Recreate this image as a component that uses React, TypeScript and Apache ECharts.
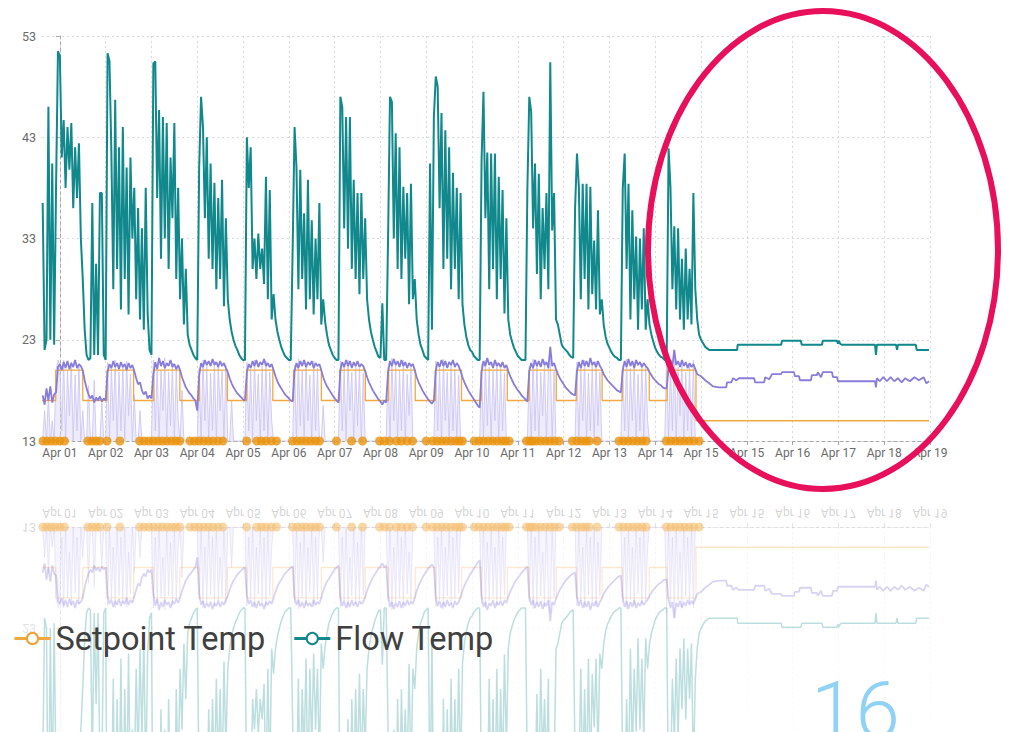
import React, { useEffect, useRef } from "react";
import * as echarts from "echarts";

// x axis is in "tick units": tick k = label k
const tickDays = [0, 1, 2, 3, 4, 5, 6, 7, 8, 9, 10, 11, 12, 13, 14, 15, 16, 17, 18, 19];
const tickLabels = [
  "Apr 01", "Apr 02", "Apr 03", "Apr 04", "Apr 05", "Apr 06", "Apr 07", "Apr 08", "Apr 09", "Apr 10",
  "Apr 11", "Apr 12", "Apr 13", "Apr 14", "Apr 15", "Apr 15", "Apr 16", "Apr 17", "Apr 18", "Apr 19",
];
const yTicks = [13, 23, 33, 43, 53];
const reflectedYLabels = [13, 23];

// Flow temp, hourly samples (9 before Apr 01, then 24 per day), then a sparse tail
const flowPre = [36.5, 22, 23, 46, 23, 40.4, 22.5, 38, 51.5];
const flowDays = [
  [51, 41, 44.7, 38, 44, 39.8, 44.4, 36, 42, 37, 42.4, 33, 29, 24, 21.5, 21, 21.2, 36.5, 21.5, 30.5, 21.5, 37.5, 37.5, 21.5],
  [21, 51.3, 50.5, 41.5, 28, 46.7, 30, 42, 26, 44, 29, 40, 25.5, 41, 33, 38, 27, 36, 25, 34, 24, 38, 25.6, 22],
  [21.5, 50.3, 50.5, 37, 45.7, 31, 45, 33, 44.4, 30, 41, 35, 44.4, 29, 38, 27, 33, 24.5, 30, 23.5, 22.5, 22, 21.5, 21.2],
  [21, 40, 47, 44, 35, 43, 31, 40.4, 30, 38.5, 28, 37, 29, 38.8, 26.3, 35, 27, 25, 23.8, 23, 22.4, 22, 21.5, 21.2],
  [21, 21, 43, 38, 42, 30, 33, 29, 33.5, 30, 32, 28.5, 39.1, 27, 37.8, 25, 27.5, 25, 23.8, 23, 22.3, 21.8, 21.4, 21.2],
  [21, 21, 32, 44, 40, 28, 39.8, 29, 35.5, 26, 38.8, 27, 34.8, 25.5, 33, 27, 36.5, 24.5, 27, 24.8, 23.5, 22.5, 22, 21.5],
  [21.2, 21, 21, 47, 46, 34, 45, 32, 45, 30, 38.8, 29, 37.5, 27.5, 37.5, 29, 35, 27, 25, 23.8, 23, 22.3, 21.8, 21.3],
  [21.2, 26.6, 21, 21, 33, 47, 46.5, 33, 43.4, 30, 42, 29, 38.1, 31, 37.5, 26.5, 38.4, 27, 29, 25, 23.5, 22.5, 22, 21.4],
  [21.2, 21, 40.4, 24, 45, 49, 48, 36, 45.4, 30, 43.7, 31, 42, 28, 39.5, 30, 38, 27, 37.5, 26.5, 24.5, 23.3, 22.5, 22],
  [21.8, 21.4, 21.2, 21, 21, 40.7, 47.5, 35, 41.5, 28, 41.4, 30, 41.4, 27, 39.1, 29, 37.8, 25.6, 35, 25, 23.5, 22.8, 22.2, 21.8],
  [21.4, 21.2, 21, 21, 21, 37.8, 47, 45.5, 34, 40.4, 29.5, 39.4, 27, 36, 30, 37.5, 28, 50.4, 33.8, 37.5, 25, 24.5, 23.5, 22.5],
  [22.2, 22, 21.8, 21.5, 21.3, 21.2, 36, 41.4, 38, 27, 38.4, 29, 38.4, 26, 38.1, 27.5, 32.8, 26, 35.8, 25.5, 27, 24.5, 23.3, 22.6],
  [22.2, 21.8, 21.5, 21.3, 21.2, 21, 21, 38, 41.4, 30, 38.4, 25, 35.8, 27, 33.2, 24, 33, 26, 34, 24, 27, 24.5, 23.5, 22.8],
  [22.2, 21.8, 21.5, 21.3, 21.2, 21, 21, 41.9, 38, 28, 34.2, 26, 34, 25, 31, 24, 32, 25, 30, 24.5, 37.5, 28, 25, 23.5],
];
const flowTail = [
  [14.0, 23], [14.09, 22.3], [14.18, 22.0], [14.79, 22.0], [14.8, 22.5], [15.75, 22.5], [15.77, 22.9],
  [16.18, 22.9], [16.2, 22.5], [16.64, 22.5], [16.66, 22.9], [16.97, 22.9], [16.99, 22.6], [17.01, 22.9],
  [17.04, 22.6], [17.08, 22.5], [17.8, 22.5], [17.82, 21.5], [17.84, 22.5], [18.26, 22.5], [18.28, 22.0],
  [18.3, 22.5], [18.69, 22.5], [18.71, 22.0], [18.98, 22.0],
];

// Room temp
const roomPre = [17.5, 16.6, 18.2, 17.0, 18.4, 16.8, 17.6, 17.8, 20.3];
const roomDays = [
  [20.6, 20.0, 20.8, 20.2, 20.9, 20.1, 20.7, 20.3, 21.0, 20.2, 20.6, 20.4, 20.0, 19.0, 18.2, 17.6, 17.2, 17.5, 16.8, 17.3, 17.0, 17.4, 16.9, 17.2],
  [17.0, 19.8, 20.6, 20.2, 20.9, 20.3, 20.7, 20.1, 20.8, 20.3, 20.6, 20.0, 20.7, 20.2, 20.5, 19.9, 19.2, 18.6, 18.8, 18.0, 17.6, 17.9, 17.2, 17.5],
  [17.2, 19.6, 20.8, 20.1, 21.2, 20.4, 20.9, 20.2, 20.7, 20.4, 21.0, 20.3, 20.6, 20.1, 20.5, 20.0, 19.3, 18.8, 18.3, 18.0, 17.7, 17.5, 17.2, 17.0],
  [16.0, 19.5, 20.7, 20.3, 21.0, 20.5, 20.9, 20.4, 21.1, 20.5, 20.8, 20.3, 20.9, 20.4, 20.7, 20.2, 19.8, 19.2, 18.7, 18.3, 18.0, 17.7, 17.5, 17.3],
  [17.1, 17.0, 19.8, 20.6, 20.2, 20.9, 20.4, 21.0, 20.3, 20.8, 20.5, 21.1, 20.4, 20.7, 20.3, 20.6, 20.0, 19.4, 18.9, 18.5, 18.2, 17.9, 17.6, 17.4],
  [17.2, 17.0, 16.9, 19.9, 20.7, 20.2, 20.9, 20.4, 21.0, 20.3, 20.8, 20.5, 20.9, 20.2, 20.7, 20.4, 20.6, 20.0, 19.3, 18.8, 18.4, 18.1, 17.8, 17.5],
  [17.2, 17.0, 16.8, 20.0, 20.8, 20.3, 21.0, 20.4, 20.9, 20.2, 20.8, 20.4, 20.9, 20.3, 20.6, 20.4, 19.9, 19.3, 18.8, 18.4, 18.0, 17.7, 17.4, 17.1],
  [16.9, 16.6, 17.0, 16.8, 19.8, 20.9, 20.4, 21.1, 20.5, 20.9, 20.3, 21.0, 20.4, 20.8, 20.2, 20.7, 20.4, 20.6, 20.0, 19.3, 18.8, 18.4, 18.0, 17.7],
  [17.4, 17.1, 16.9, 16.7, 17.0, 20.0, 20.8, 20.3, 21.0, 20.4, 20.9, 20.2, 20.8, 20.5, 21.0, 20.3, 20.7, 20.4, 19.9, 19.3, 18.8, 18.4, 18.0, 17.7],
  [17.4, 17.1, 16.8, 16.5, 16.3, 19.8, 20.9, 20.4, 21.2, 20.5, 20.8, 20.2, 21.0, 20.4, 20.7, 20.3, 20.8, 20.2, 20.5, 19.9, 19.4, 19.0, 18.6, 18.3],
  [18.0, 17.8, 17.5, 17.3, 17.1, 16.9, 19.9, 20.7, 20.2, 21.0, 20.4, 20.9, 20.3, 21.1, 20.5, 20.8, 20.2, 22.3, 20.4, 20.7, 20.1, 19.6, 19.2, 18.9],
  [18.6, 18.3, 18.1, 17.9, 17.7, 17.6, 17.5, 19.9, 20.8, 20.2, 21.0, 20.4, 20.9, 20.3, 21.2, 20.5, 20.8, 20.3, 20.9, 20.4, 20.1, 19.6, 19.3, 19.0],
  [18.8, 18.6, 18.4, 18.2, 18.0, 17.9, 17.8, 20.0, 20.9, 20.3, 21.1, 20.4, 20.9, 20.2, 21.0, 20.5, 20.8, 20.3, 20.7, 20.4, 20.2, 19.8, 19.5, 19.2],
  [19.0, 18.8, 18.6, 18.5, 18.3, 18.2, 18.2, 20.2, 21.0, 20.4, 22.0, 20.5, 20.9, 20.3, 21.0, 20.4, 20.8, 20.2, 20.7, 20.3, 20.6, 20.1, 19.6, 19.5],
];
const roomTail = [
  [14.0, 19.4], [14.09, 19.0], [14.18, 18.7], [14.26, 18.4], [14.39, 18.3], [14.55, 18.3], [14.57, 18.8],
  [14.66, 18.8], [14.7, 19.2], [14.77, 19.0], [14.83, 19.2], [15.16, 19.2], [15.18, 18.8], [15.38, 18.8],
  [15.4, 19.3], [15.49, 19.1], [15.55, 19.6], [15.75, 19.6], [15.77, 19.8], [16.03, 19.8], [16.05, 19.4],
  [16.14, 19.4], [16.16, 19.0], [16.4, 19.0], [16.42, 19.5], [16.53, 19.5], [16.55, 19.8], [16.62, 19.3],
  [16.66, 19.8], [16.86, 19.8], [16.88, 19.3], [16.97, 19.3], [16.99, 18.9], [17.8, 18.9], [17.82, 18.3],
  [17.84, 19.2], [17.9, 18.9], [17.98, 19.3], [18.06, 18.9], [18.14, 19.3], [18.22, 18.9], [18.3, 19.2],
  [18.38, 18.8], [18.46, 19.2], [18.56, 18.9], [18.66, 19.3], [18.76, 19.0], [18.86, 19.3], [18.92, 18.7],
  [18.98, 18.9],
];

// Heat demand (pale band)
const demandPre = [13, 16, 13, 17.5, 13, 15, 13, 20, 21];
const demandDays = [
  [20.5, 14, 21, 13, 20, 15.5, 20.8, 13, 19.5, 14, 20.6, 13, 16, 13, 13, 18.5, 13, 13, 19, 13, 13, 13, 17, 13],
  [13, 20.8, 13, 20.2, 15, 21, 13, 19.8, 14, 20.5, 13, 20.9, 15.5, 19.6, 13, 17.5, 13, 13, 16, 13, 13, 13, 13, 13],
  [13, 21, 14, 20.5, 13, 20, 16, 21.2, 13, 19.8, 14.5, 20.7, 13, 20.1, 15, 13, 18, 13, 13, 13, 13, 13, 13, 13],
  [13, 20.2, 13, 21, 15, 20.4, 13, 19.7, 14, 20.9, 13, 20.3, 16, 19.9, 13, 20.5, 13, 13, 17, 13, 13, 13, 13, 13],
  [13, 13, 20.8, 14, 20.1, 13, 21, 15, 19.6, 13, 20.4, 14, 20.9, 13, 19.8, 15, 13, 13, 13, 13, 13, 13, 13, 13],
  [13, 13, 13, 20.5, 13, 21.1, 14.5, 20, 13, 20.7, 15, 19.5, 13, 20.9, 14, 20.2, 13, 13, 16.5, 13, 13, 13, 13, 13],
  [13, 13, 13, 20.9, 14, 20.3, 13, 21, 16, 19.8, 13, 20.6, 14.5, 20.2, 13, 19.7, 13, 13, 13, 13, 13, 13, 13, 13],
  [13, 13, 13, 13, 20.3, 13, 21.2, 15, 20.5, 13, 20, 14, 21, 13, 19.6, 15.5, 20.4, 13, 13, 13, 13, 13, 13, 13],
  [13, 13, 13, 13, 13, 20.9, 14, 20.2, 13, 21.1, 15, 19.8, 13, 20.6, 14, 20.1, 13, 19.5, 13, 13, 13, 13, 13, 13],
  [13, 13, 13, 13, 13, 20.6, 13, 21, 14.5, 20.3, 13, 19.9, 15, 20.8, 13, 20.2, 14, 19.7, 13, 13, 13, 13, 13, 13],
  [13, 13, 13, 13, 13, 13, 20.4, 13, 21.1, 14, 20.6, 13, 19.8, 15.5, 20.9, 13, 20.2, 21.5, 13, 19.9, 13, 13, 13, 13],
  [13, 13, 13, 13, 13, 13, 13, 20.8, 13, 20.3, 15, 21, 13, 19.7, 14, 20.5, 13, 20.9, 14.5, 19.8, 13, 13, 13, 13],
  [13, 13, 13, 13, 13, 13, 13, 20.5, 14, 21.1, 13, 20.2, 15, 20.8, 13, 19.6, 14, 20.7, 13, 20.3, 15, 13, 13, 13],
  [13, 13, 13, 13, 13, 13, 21.5, 13, 20.6, 14, 22, 13, 20.3, 15.5, 20.9, 13, 19.8, 14, 20.5, 13, 21, 13, 13, 13],
];

// Setpoint schedule: [time, new value]
const setpointSteps = [
  [-0.39, 17], [-0.09, 20], [0.5, 17], [1.03, 20], [1.61, 17], [2.05, 20], [2.62, 17], [3.05, 20],
  [3.66, 17], [4.08, 20], [4.65, 17], [5.1, 20], [5.71, 17], [6.11, 20], [6.67, 17], [7.18, 20],
  [7.76, 17], [8.2, 20], [8.77, 17], [9.2, 20], [9.77, 17], [10.25, 20], [10.84, 17], [11.28, 20],
  [11.84, 17], [12.28, 20], [12.87, 17], [13.26, 20], [13.89, 15], [18.98, 15],
];

// Boiler-on events (dots on the baseline)
const boilerOn = [
  -0.37, -0.28, -0.19, -0.1, 0.0, 0.1, 0.61, 0.7, 0.79, 0.87, 1.03, 1.31,
  1.74, 1.84, 1.94, 2.04, 2.14, 2.24, 2.34, 2.44, 2.53, 2.62,
  2.84, 2.94, 3.04, 3.14, 3.24, 3.34, 3.45, 3.56, 4.08,
  4.3, 4.4, 4.5, 4.62, 4.73, 5.08, 5.18, 5.28, 5.38, 5.48, 5.58, 5.67,
  6.04, 6.37, 6.61, 6.98, 7.09, 7.2, 7.35, 7.46, 7.58, 7.7, 8.0,
  8.14, 8.24, 8.34, 8.44, 8.54, 8.64, 8.72, 8.79,
  9.05, 9.15, 9.25, 9.35, 9.45, 9.55, 9.65, 9.73, 9.81,
  10.19, 10.26, 10.32, 10.4, 10.5, 10.6, 10.7, 10.8, 10.9,
  11.19, 11.29, 11.39, 11.48, 11.56, 11.73,
  12.21, 12.31, 12.41, 12.51, 12.61, 12.71, 12.8,
  13.24, 13.34, 13.44, 13.54, 13.64, 13.74, 13.84, 13.96,
];

function hourly(pre: number[], days: number[][], tail: number[][] = []) {
  const out: number[][] = [];
  pre.forEach((v, i) => out.push([(i - pre.length) / 24, v]));
  days.forEach((row, k) => row.forEach((v, h) => out.push([k + h / 24, v])));
  tail.forEach((p) => out.push(p));
  return out;
}

const FONT = "Roboto";

export default function App() {
  const ref = useRef<HTMLDivElement>(null);
  useEffect(() => {
    if (!ref.current) return;
    const chart = echarts.init(ref.current, null, { renderer: "svg" });
    const flow = hourly(flowPre, flowDays, flowTail);
    const room = hourly(roomPre, roomDays, roomTail);
    const demand = hourly(demandPre, demandDays, [[14.0, 13]]);
    const dots = boilerOn.map((t) => [t, 13]);

    const mkSeries = (gi: number, faded: boolean) => {
      const a = faded ? 0.33 : 1;
      const sfx = faded ? " (reflection)" : "";
      return [
        {
          name: "Heat Demand" + sfx, type: "line", xAxisIndex: gi, yAxisIndex: gi, data: demand,
          showSymbol: false, symbol: "none", z: 1,
          lineStyle: { color: `rgba(205,199,243,${faded ? 0.5 : 0.9})`, width: 1 },
          areaStyle: { color: `rgba(214,209,246,${faded ? 0.4 : 0.6})` },
        },
        {
          name: faded ? "Setpoint" + sfx : "Setpoint Temp", type: "line", step: "end",
          xAxisIndex: gi, yAxisIndex: gi, data: setpointSteps, showSymbol: false, symbol: "emptyCircle",
          symbolSize: 7, z: 2, itemStyle: { color: `rgba(240,160,48,${a})` },
          lineStyle: { color: `rgba(241,168,62,${a})`, width: 1.3 },
        },
        {
          name: "Room Temp" + sfx, type: "line", xAxisIndex: gi, yAxisIndex: gi, data: room,
          showSymbol: false, symbol: "none", z: 3,
          lineStyle: { color: `rgba(136,125,218,${a})`, width: 1.8 },
        },
        {
          name: faded ? "Flow" + sfx : "Flow Temp", type: "line", xAxisIndex: gi, yAxisIndex: gi, data: flow,
          showSymbol: false, symbol: "emptyCircle", symbolSize: 7, z: 4,
          itemStyle: { color: `rgba(16,136,140,${a})` },
          lineStyle: { color: `rgba(16,136,140,${faded ? 0.28 : 1})`, width: faded ? 1.5 : 2 },
        },
        {
          name: "Boiler On" + sfx, type: "scatter", xAxisIndex: gi, yAxisIndex: gi, data: dots,
          symbolSize: 9, z: 5, itemStyle: { color: faded ? "rgba(245,190,110,0.75)" : "#ea930f" },
        },
      ];
    };

    const gridLine = { color: "#d9d9d9", type: [2, 3] as any, width: 1 };
    const axisGray = "#a8a8a8";
    const fadedGray = "rgba(180,180,180,0.45)";

    chart.setOption({
      animation: false,
      textStyle: { fontFamily: FONT },
      grid: [
        { left: 42, top: 36, width: 888, height: 405, outerBoundsMode: "none" },
        { left: 42, top: 527, width: 888, height: 405, outerBoundsMode: "none" },
      ],
      legend: {
        data: ["Setpoint Temp", "Flow Temp"],
        left: 8, top: 617, itemWidth: 36, itemHeight: 14, itemGap: 27, z: 10,
        textStyle: { fontSize: 32.5, color: "#404040", fontFamily: FONT },
        lineStyle: { width: 3 }, itemStyle: { borderWidth: 3 },
      },
      xAxis: [
        {
          type: "value", gridIndex: 0, min: -0.39, max: 19,
          axisLine: { lineStyle: { color: axisGray, type: [3, 3] as any } },
          axisTick: { show: true, customValues: tickDays, length: 4, lineStyle: { color: axisGray } },
          axisLabel: {
            customValues: tickDays, color: "#6a6a6a", fontSize: 12, margin: 6, fontFamily: FONT,
            formatter: (v: number) => tickLabels[Math.round(v)] ?? "",
          },
          splitLine: { show: true, lineStyle: gridLine },
        },
        {
          type: "value", gridIndex: 1, min: -0.39, max: 19, position: "top",
          axisLine: { lineStyle: { color: fadedGray, type: [3, 3] as any } },
          axisTick: { show: true, customValues: tickDays, length: 4, lineStyle: { color: fadedGray } },
          axisLabel: { show: false, customValues: tickDays },
          splitLine: { show: true, lineStyle: { color: "rgba(220,220,220,0.45)", type: [2, 3] as any } },
        },
      ],
      yAxis: [
        {
          type: "value", gridIndex: 0, min: 13, max: 53,
          axisLine: { show: true, lineStyle: { color: axisGray, type: [3, 3] as any } },
          axisTick: { show: true, customValues: yTicks, length: 4, lineStyle: { color: axisGray } },
          axisLabel: { customValues: yTicks, color: "#6a6a6a", fontSize: 12.5, margin: 6, fontFamily: FONT },
          splitLine: { show: true, lineStyle: gridLine },
        },
        {
          type: "value", gridIndex: 1, min: 13, max: 53, inverse: true,
          axisLine: { show: true, lineStyle: { color: fadedGray, type: [3, 3] as any } },
          axisTick: { show: true, customValues: yTicks, length: 4, lineStyle: { color: fadedGray } },
          axisLabel: { show: false, customValues: yTicks },
          splitLine: { show: true, lineStyle: { color: "rgba(220,220,220,0.45)", type: [2, 3] as any } },
        },
      ],
      series: [...mkSeries(0, false), ...mkSeries(1, true)],
    });

    // mirrored axis labels of the reflection, placed through the reflected axes
    const baseY = chart.convertToPixel({ yAxisIndex: 1 }, 13) as number;
    const flipped: any[] = [];
    tickDays.forEach((v, i) => {
      const px = chart.convertToPixel({ xAxisIndex: 1 }, v) as number;
      flipped.push({
        type: "text", x: px, y: baseY - 14, scaleY: -1, z: 1, silent: true,
        style: { text: tickLabels[i], x: 0, y: 0, align: "center", verticalAlign: "middle",
          fill: "rgba(110,110,110,0.35)", font: `12px ${FONT}` },
      });
    });
    reflectedYLabels.forEach((v) => {
      const py = chart.convertToPixel({ yAxisIndex: 1 }, v) as number;
      flipped.push({
        type: "text", x: 36, y: py, scaleY: -1, z: 1, silent: true,
        style: { text: String(v), x: 0, y: 0, align: "right", verticalAlign: "middle",
          fill: "rgba(110,110,110,0.35)", font: `12.5px ${FONT}` },
      });
    });

    chart.setOption({
      graphic: {
        elements: [
          ...flipped,
          {
            type: "rect", z: 3, silent: true,
            shape: { x: 0, y: 486, width: 1011, height: 246 },
            style: {
              fill: new echarts.graphic.LinearGradient(0, 0, 0, 1, [
                { offset: 0, color: "rgba(255,255,255,0.05)" },
                { offset: 0.5, color: "rgba(255,255,255,0.35)" },
                { offset: 1, color: "rgba(255,255,255,0.8)" },
              ]),
            },
          },
          {
            type: "ellipse", z: 20, silent: true,
            shape: { cx: 823, cy: 250, rx: 175, ry: 239 },
            style: { fill: "transparent", stroke: "#e8105a", lineWidth: 6 },
          },
          {
            type: "text", z: 20, silent: true, x: 811, y: 671,
            style: { text: "16", fill: "#8fd2f3", font: `300 80px ${FONT}`, verticalAlign: "top" },
          },
        ],
      },
    });

    return () => chart.dispose();
  }, []);
  return (
    <div
      ref={ref}
      style={{ position: "fixed", left: 0, top: 0, width: 1011, height: 732, background: "#fff" }}
    />
  );
}
